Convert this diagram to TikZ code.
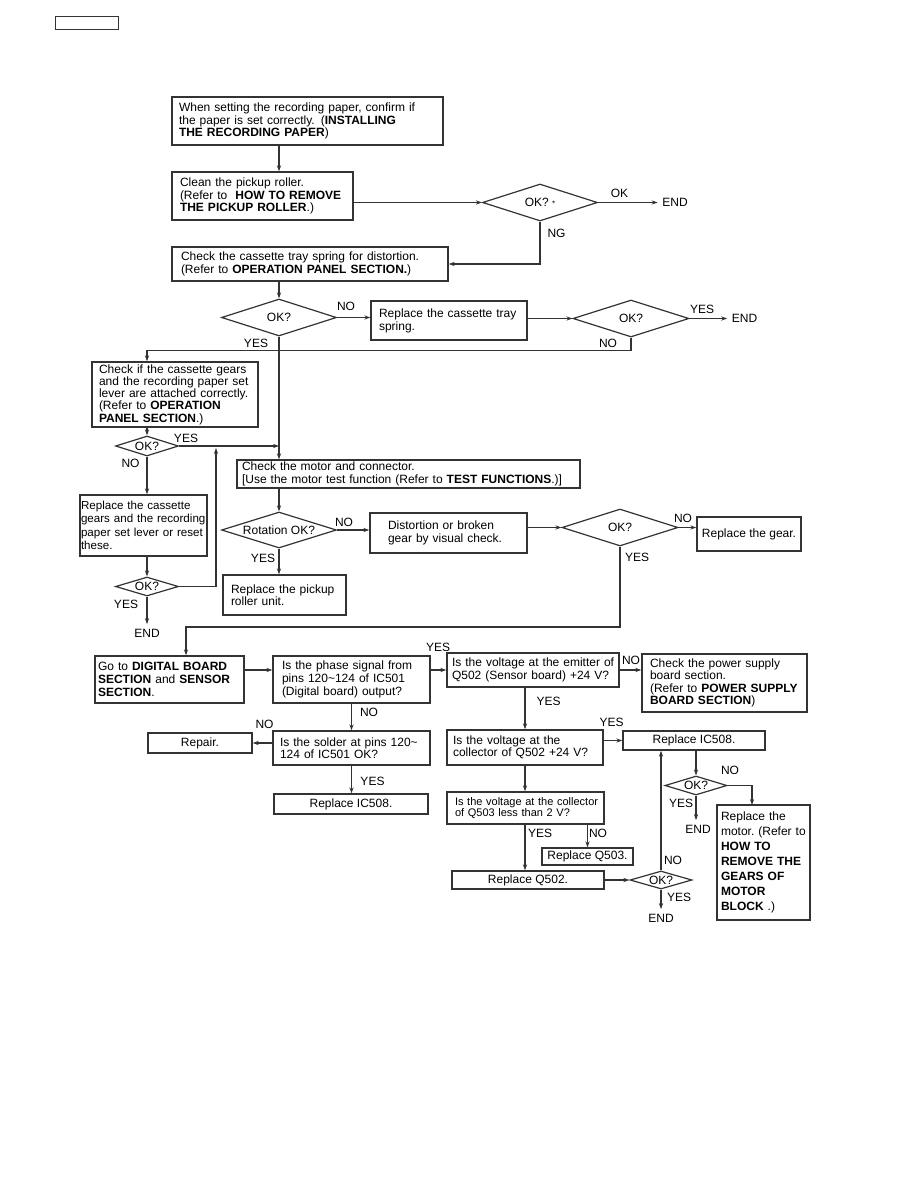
\documentclass[tikz,border=0pt]{standalone}
\usepackage{fontspec}
\setmainfont{Liberation Sans}
\usetikzlibrary{shapes.geometric,arrows.meta}
\definecolor{ink}{HTML}{333333}
\newcommand{\ffont}[1]{\fontsize{12}{#1}\selectfont}
\tikzset{
  box/.style 2 args={draw=ink, line width=1.4pt, align=left, font=\ffont{12.3},
    text width=#1, inner xsep=#2, inner ysep=0pt,
    execute at begin node={\rightskip=0pt plus 1fil minus 40pt}},
  cbox/.style={draw=ink, line width=1.4pt, align=center, font=\ffont{12.3}, inner sep=0pt},
  dec/.style={diamond, draw=ink, line width=1.2pt, aspect=3, inner sep=0pt, font=\ffont{12.3}},
  lbl/.style={font=\ffont{12.3}, inner sep=0pt},
  fin/.style={font=\ffont{12.3}, inner sep=4.5pt},
  arr/.style={draw=ink, line width=1.2pt, -{Stealth[length=6pt,width=4.2pt]}},
}
\begin{document}
\begin{tikzpicture}[x=1pt, y=-1pt]
    \useasboundingbox (0,0) rectangle (918,1188);
    % page tag
    \node[draw=ink, line width=0.9pt, minimum width=63pt, minimum height=13pt, inner sep=0pt] (tag) at (86.5,22.5) {};
    % Top: recording paper, pickup roller, cassette tray spring
    \node[box={257pt}{7pt}, minimum height=48pt] (setpaper) at (307.5,121)
        {When setting the recording paper, confirm if\\the paper is set correctly. (\textbf{INSTALLING}\\\textbf{THE RECORDING PAPER})};
    \node[box={165pt}{8pt}, minimum height=48pt] (clean) at (262.5,196)
        {Clean the pickup roller.\\(Refer to\ \ \textbf{HOW TO REMOVE}\\\textbf{THE PICKUP ROLLER}.)};
    \node[dec, minimum width=115pt, minimum height=37pt] (okroller) at (540,202.5) {OK? {\fontsize{8}{8}\selectfont *}};
    \node[fin] (endroller) at (675,202.5) {END};
    \node[box={258pt}{9pt}, minimum height=34pt] (spring) at (310,264)
        {Check the cassette tray spring for distortion.\\(Refer to \textbf{OPERATION PANEL SECTION.})};
    \node[dec, minimum width=115pt, minimum height=37pt] (okspring) at (279,317.5) {OK?};
    \node[box={140pt}{8pt}, minimum height=39pt, font=\ffont{13}] (newspring) at (449,320.5) {Replace the cassette tray\\spring.};
    \node[dec, minimum width=116pt, minimum height=37pt] (oknewspring) at (631,318.5) {OK?};
    \node[fin] (endspring) at (744.5,318.5) {END};
    % Left column: cassette gears
    \node[box={152pt}{7pt}, minimum height=65pt] (gears) at (175,394.5)
        {Check if the cassette gears\\and the recording paper set\\lever are attached correctly.\\(Refer to \textbf{OPERATION}\\\textbf{PANEL SECTION}.)};
    \node[dec, minimum width=63pt, minimum height=20pt] (okgears) at (147,446) {OK?};
    \node[box={125pt}{1pt}, minimum height=61pt, font=\fontsize{11.6}{13.5}\selectfont] (newgears) at (143.5,525.5)
        {Replace the cassette\\gears and the recording\\paper set lever or reset\\these.};
    \node[dec, minimum width=63pt, minimum height=19pt] (oknewgears) at (147,586.5) {OK?};
    \node[fin] (endgears) at (147,633) {END};
    \coordinate (upB) at (216,448);
    % Middle: motor and gear
    \node[box={333pt}{5pt}, minimum height=28pt, font=\ffont{12.5}] (motor) at (408.5,474)
        {Check the motor and connector.\\{[}Use the motor test function (Refer to \textbf{TEST FUNCTIONS}.)]};
    \node[dec, minimum width=115pt, minimum height=36pt] (rotation) at (279,530) {Rotation OK?};
    \node[box={121pt}{18pt}, minimum height=40pt, font=\ffont{13.5}] (visual) at (448.5,533)
        {Distortion or broken\\gear by visual check.};
    \node[box={107pt}{8pt}, minimum height=40pt] (roller) at (284.5,595) {Replace the pickup\\roller unit.};
    \node[dec, minimum width=116pt, minimum height=37pt] (okvisual) at (620,527.5) {OK?};
    \node[cbox, minimum width=104pt, minimum height=34pt] (gear) at (749,534) {Replace the gear.};
    \coordinate (turnD) at (186,627);
    % Bottom: digital board and sensor
    \node[box={143pt}{3pt}, minimum height=47pt, font=\ffont{12.7}] (digital) at (169.5,679.5)
        {Go to \textbf{DIGITAL BOARD}\\\textbf{SECTION} and \textbf{SENSOR}\\\textbf{SECTION}.};
    \node[box={139pt}{9pt}, minimum height=47pt, font=\ffont{13}] (phase) at (351.5,679.5)
        {Is the phase signal from\\pins 120\textasciitilde124 of IC501\\(Digital board) output?};
    \node[box={162pt}{5pt}, minimum height=34pt] (emitter) at (533,670)
        {Is the voltage at the emitter of\\Q502 (Sensor board) +24 V?};
    \node[box={149pt}{8pt}, minimum height=58pt] (power) at (724.5,683)
        {Check the power supply\\board section.\\(Refer to \textbf{POWER SUPPLY}\\\textbf{BOARD SECTION})};
    \node[box={143pt}{7pt}, minimum height=34pt] (solder) at (351.5,748)
        {Is the solder at pins 120\textasciitilde\\124 of IC501 OK?};
    \node[cbox, minimum width=104pt, minimum height=20pt] (repair) at (200,743) {Repair.};
    \node[cbox, minimum width=154pt, minimum height=20pt] (icA) at (351,804) {Replace IC508.};
    \node[box={144pt}{6pt}, minimum height=35pt] (collector) at (525,747.5)
        {Is the voltage at the\\collector of Q502 +24 V?};
    \node[cbox, minimum width=142pt, minimum height=19pt] (icB) at (694,740.5) {Replace IC508.};
    \node[box={141pt}{8pt}, minimum height=32pt, font=\fontsize{11}{11.5}\selectfont] (lowvolt) at (525.5,808)
        {Is the voltage at the collector\\of Q503 less than 2 V?};
    \node[cbox, minimum width=91pt, minimum height=17pt] (qC) at (587.5,856.5) {Replace Q503.};
    \node[cbox, minimum width=152pt, minimum height=18pt] (qB) at (528,880) {Replace Q502.};
    \node[dec, minimum width=62pt, minimum height=18pt] (okq) at (661,880) {OK?};
    \node[fin] (endq) at (661,918) {END};
    \node[dec, minimum width=62pt, minimum height=19pt] (okic) at (696,785.5) {OK?};
    \node[fin] (endic) at (698,829) {END};
    \node[box={85pt}{4pt}, minimum height=115pt, font=\ffont{15}] (newmotor) at (763.5,862.5)
        {Replace the\\motor.\ (Refer to\\\textbf{HOW TO}\\\textbf{REMOVE THE}\\\textbf{GEARS OF}\\\textbf{MOTOR}\\\textbf{BLOCK} .)};
    \coordinate (intoM) at (752,805);
    % branch labels
    \node[lbl] (lokA) at (619.5,193) {OK};
    \node[lbl] (lngA) at (556.5,233.5) {NG};
    \node[lbl] (lnoB) at (346,306) {NO};
    \node[lbl] (lyesB) at (256,343) {YES};
    \node[lbl] (lyesC) at (702,309) {YES};
    \node[lbl] (lnoC) at (608,343) {NO};
    \node[lbl] (lyesD) at (186,438) {YES};
    \node[lbl] (lnoD) at (130.5,463) {NO};
    \node[lbl] (lyesE) at (126,604) {YES};
    \node[lbl] (lnoF) at (344,522) {NO};
    \node[lbl] (lyesF) at (263,558) {YES};
    \node[lbl] (lnoG) at (683,518) {NO};
    \node[lbl] (lyesG) at (637,557) {YES};
    \node[lbl] (lyesH) at (438,647) {YES};
    \node[lbl] (lnoH) at (369,712) {NO};
    \node[lbl] (lnoJ) at (264.5,724) {NO};
    \node[lbl] (lyesJ) at (372.5,781) {YES};
    \node[lbl] (lnoI) at (631,660) {NO};
    \node[lbl] (lyesI) at (548.5,701) {YES};
    \node[lbl] (lyesK) at (611.5,722) {YES};
    \node[lbl] (lyesL) at (540,833) {YES};
    \node[lbl] (lnoL) at (598,833) {NO};
    \node[lbl] (lnoN) at (730,770) {NO};
    \node[lbl] (lyesN) at (681,803) {YES};
    \node[lbl] (lnoM) at (673,860) {NO};
    \node[lbl] (lyesM) at (679,897) {YES};
    % connectors
    \draw[arr] (setpaper.south -| okspring.north) -- (clean.north -| okspring.north);
    \draw[arr] (clean.east |- okroller.west) -- (okroller.west);
    \draw[arr] (okroller.east) -- (endroller.west);
    \draw[arr] (okroller.south) |- (spring.east);
    \draw[arr] (spring.south -| okspring.north) -- (okspring.north);
    \draw[arr] (okspring.east) -- (okspring.east -| newspring.west);
    \draw[arr] (newspring.east |- oknewspring.west) -- (oknewspring.west);
    \draw[arr] (oknewspring.east) -- (endspring.west);
    \draw[arr] (oknewspring.south) -- ++(0,12.5) -| (gears.north -| okgears.north);
    \draw[arr] (okspring.south) -- (okspring.south |- motor.north);
    \draw[arr] (gears.south -| okgears.north) -- (okgears.north);
    \draw[arr] (okgears.east) -- (okgears.east -| okspring.south);
    \draw[arr] (okgears.south) -- (okgears.south |- newgears.north);
    \draw[arr] (newgears.south -| oknewgears.north) -- (oknewgears.north);
    \draw[arr] (oknewgears.south) -- (endgears.north);
    \draw[arr] (oknewgears.east) -| (upB);
    \draw[arr] (motor.south -| rotation.north) -- (rotation.north);
    \draw[arr] (rotation.east) -- (rotation.east -| visual.west);
    \draw[arr] (rotation.south) -- (rotation.south |- roller.north);
    \draw[arr] (visual.east |- okvisual.west) -- (okvisual.west);
    \draw[arr] (okvisual.east) -- (okvisual.east -| gear.west);
    \draw[arr] (okvisual.south) |- (turnD) -- (digital.north -| turnD);
    \draw[arr] (digital.east |- emitter.west) -- (phase.west |- emitter.west);
    \draw[arr] (phase.east |- emitter.west) -- (emitter.west);
    \draw[arr] (phase.south -| solder.north) -- (solder.north);
    \draw[arr] (emitter.east) -- (emitter.east -| power.west);
    \draw[arr] (emitter.south -| collector.north) -- (collector.north);
    \draw[arr] (solder.west |- repair.east) -- (repair.east);
    \draw[arr] (solder.south) -- (solder.south |- icA.north);
    \draw[arr] (collector.east |- icB.west) -- (icB.west);
    \draw[arr] (collector.south) -- (collector.south |- lowvolt.north);
    \draw[arr] (collector.south |- lowvolt.south) -- (collector.south |- qB.north);
    \draw[arr] (qC.north |- lowvolt.south) -- (qC.north);
    \draw[arr] (qB.east) -- (okq.west);
    \draw[arr] (okq.north) -- (okq.north |- icB.south);
    \draw[arr] (okq.south) -- (endq.north);
    \draw[arr] (icB.south -| okic.north) -- (okic.north);
    \draw[arr] (okic.east) -| (intoM);
    \draw[arr] (okic.south) -- (okic.south |- endic.north);
\end{tikzpicture}
\end{document}
